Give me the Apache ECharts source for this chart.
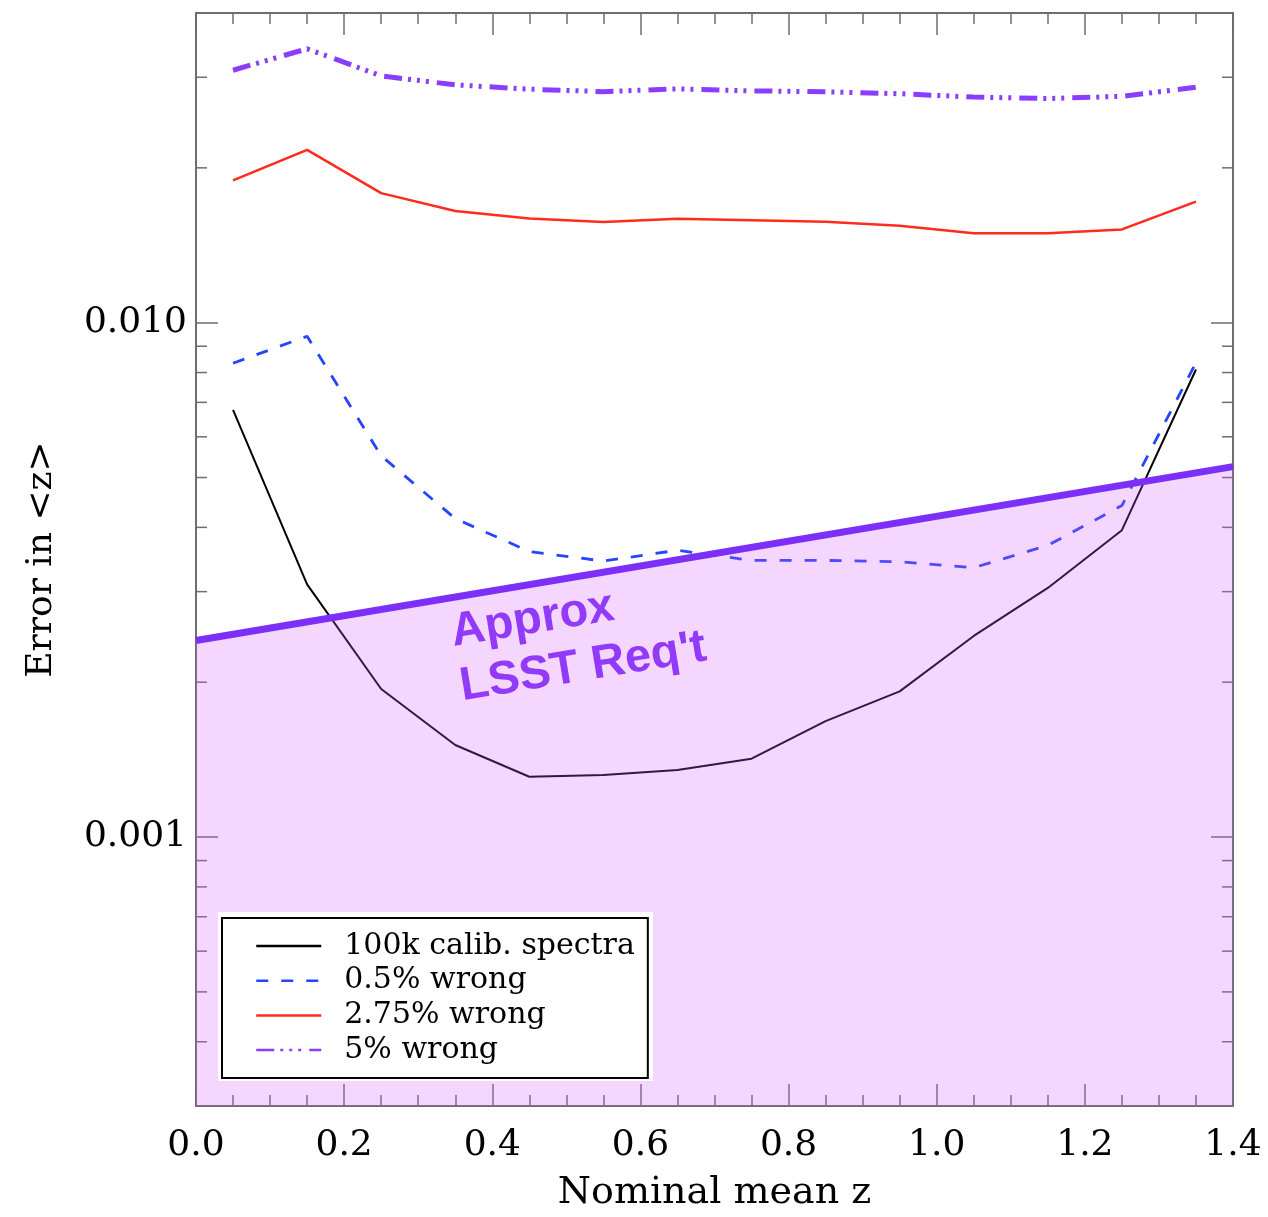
<!DOCTYPE html>
<html>
<head>
<meta charset="utf-8">
<script src="https://cdn.jsdelivr.net/npm/echarts@6/dist/echarts.min.js"></script>
<style>
  html, body { margin: 0; padding: 0; background: #ffffff; }
  #chart { width: 1268px; height: 1217px; }
</style>
</head>
<body>
<div id="chart"></div>
<script>
// ---- data ----
const zValues = [0.05, 0.15, 0.25, 0.35, 0.45, 0.55, 0.65, 0.75, 0.85, 0.95, 1.05, 1.15, 1.25, 1.35];
const calib100k = [0.00677, 0.00310, 0.00194, 0.00151, 0.00131, 0.00132, 0.00135, 0.00142, 0.00168, 0.00192, 0.00246, 0.00305, 0.00395, 0.00811];
const wrong05 = [0.00834, 0.00941, 0.00551, 0.00416, 0.00359, 0.00344, 0.00361, 0.00345, 0.00345, 0.00343, 0.00334, 0.00369, 0.00441, 0.00836];
const wrong275 = [0.01891, 0.02168, 0.01786, 0.01649, 0.01594, 0.01570, 0.01593, 0.01582, 0.01571, 0.01544, 0.01493, 0.01493, 0.01518, 0.01719];
const wrong5 = [0.03096, 0.03408, 0.03018, 0.02900, 0.02844, 0.02813, 0.02848, 0.02823, 0.02811, 0.02787, 0.02745, 0.02727, 0.02754, 0.02869];
const reqZ = [0.0, 1.4];
const reqValues = [0.00241, 0.00525];
const seriesNames = ['100k calib. spectra', '0.5% wrong', '2.75% wrong', '5% wrong'];
const yLabelValues = [0.001, 0.01];
const yMinorTicks = [0.0004, 0.0005, 0.0006, 0.0007, 0.0008, 0.0009,
                     0.002, 0.003, 0.004, 0.005, 0.006, 0.007, 0.008, 0.009,
                     0.02, 0.03];
const annotationText = ['Approx', "LSST Req't"];

// ---- styling ----
const SERIF = 'DejaVu Serif';
const AXIS_COLOR = '#6e6e6e';
const pair = (xs, ys) => xs.map((x, i) => [x, ys[i]]);

const chart = echarts.init(document.getElementById('chart'), null, { renderer: 'canvas' });

function xAxisCfg(pos, showLabels) {
  return {
    type: 'value', position: pos, min: 0, max: 1.4, interval: 0.2,
    axisLine: { show: true, onZero: false, lineStyle: { color: AXIS_COLOR, width: 2 } },
    axisTick: { show: true, inside: true, length: 22, lineStyle: { color: AXIS_COLOR, width: 1.5 } },
    minorTick: { show: true, splitNumber: 4, length: 11, lineStyle: { color: AXIS_COLOR, width: 1.5 } },
    splitLine: { show: false }, minorSplitLine: { show: false },
    axisLabel: {
      show: showLabels, margin: 22, color: '#000', fontFamily: SERIF, fontSize: 36,
      formatter: v => v.toFixed(1)
    },
    name: showLabels ? 'Nominal mean z' : '',
    nameLocation: 'middle', nameGap: 68,
    nameTextStyle: { color: '#000', fontFamily: SERIF, fontSize: 38 }
  };
}
function yAxisCfg(pos, showLabels) {
  return {
    type: 'log', logBase: 10, position: pos, min: 0.0003, max: 0.04,
    axisLine: { show: true, onZero: false, lineStyle: { color: AXIS_COLOR, width: 2 } },
    axisTick: { show: true, inside: true, length: 22, lineStyle: { color: AXIS_COLOR, width: 1.5 } },
    minorTick: { show: false },
    splitLine: { show: false },
    axisLabel: {
      show: showLabels, margin: 9, color: '#000', fontFamily: SERIF, fontSize: 36,
      formatter: v => {
        const hit = yLabelValues.find(t => Math.abs(Math.log10(v) - Math.log10(t)) < 1e-6);
        return hit !== undefined ? hit.toFixed(3) : '';
      }
    },
    name: showLabels ? 'Error in <z>' : '',
    nameLocation: 'middle', nameGap: 136, nameRotate: 90,
    nameTextStyle: { color: '#000', fontFamily: SERIF, fontSize: 36 }
  };
}

const option = {
  animation: false,
  backgroundColor: '#ffffff',
  grid: { left: 196, top: 13, width: 1037, height: 1097, containLabel: false },
  xAxis: [xAxisCfg('bottom', true), xAxisCfg('top', false)],
  yAxis: [yAxisCfg('left', true), yAxisCfg('right', false)],
  legend: {
    data: seriesNames,
    orient: 'vertical', left: 222, top: 918,
    padding: [13, 13, 13, 33],
    itemWidth: 65, itemHeight: 14, itemGap: 4.7,
    backgroundColor: '#ffffff', borderColor: '#000000', borderWidth: 2, borderRadius: 0,
    lineStyle: { width: 2.5 },
    itemStyle: { opacity: 0, borderWidth: 0 },
    textStyle: { color: '#000', fontFamily: SERIF, fontSize: 30, lineHeight: 30, padding: [0, 0, 0, 18] },
    selectedMode: false,
    z: 10
  },
  graphic: [
    {
      type: 'rect', z: 9,
      shape: { x: 218, y: 912, width: 435, height: 169 },
      style: { fill: '#ffffff' }
    },
    {
      type: 'group', x: 454, y: 649, rotation: 9.3 * Math.PI / 180, z: 8,
      children: [
        { type: 'text', x: 0, y: -16, style: { text: annotationText[0], fill: '#7c2ff8', font: 'bold 47px "Liberation Sans", Arial, sans-serif', align: 'left', verticalAlign: 'middle' } },
        { type: 'text', x: 0, y: 39, style: { text: annotationText[1], fill: '#7c2ff8', font: 'bold 47px "Liberation Sans", Arial, sans-serif', align: 'left', verticalAlign: 'middle' } }
      ]
    }
  ],
  series: [
    {
      type: 'custom', name: 'yMinorTicks', z: 1, silent: true,
      xAxisIndex: 0, yAxisIndex: 0,
      data: yMinorTicks.map(v => [0, v]),
      renderItem: function (params, api) {
        const cs = params.coordSys;
        const p = api.coord([0, api.value(1)]);
        const st = { stroke: AXIS_COLOR, lineWidth: 1.5 };
        return {
          type: 'group',
          children: [
            { type: 'line', shape: { x1: cs.x, y1: p[1], x2: cs.x + 11, y2: p[1] }, style: st },
            { type: 'line', shape: { x1: cs.x + cs.width - 11, y1: p[1], x2: cs.x + cs.width, y2: p[1] }, style: st }
          ]
        };
      }
    },
    {
      name: seriesNames[0], type: 'line', data: pair(zValues, calib100k), z: 2,
      symbol: 'none', lineStyle: { color: '#000000', width: 2 }, itemStyle: { color: '#000000' }
    },
    {
      name: seriesNames[1], type: 'line', data: pair(zValues, wrong05), z: 2,
      symbol: 'none', lineStyle: { color: '#2545ff', width: 2.8, type: [12, 13] }, itemStyle: { color: '#2545ff' }
    },
    {
      name: seriesNames[2], type: 'line', data: pair(zValues, wrong275), z: 2,
      symbol: 'none', lineStyle: { color: '#ff2b1c', width: 2.5 }, itemStyle: { color: '#ff2b1c' }
    },
    {
      name: seriesNames[3], type: 'line', data: pair(zValues, wrong5), z: 2,
      symbol: 'none', lineStyle: { color: '#8a3dff', width: 5, type: [18, 6, 3, 6, 3, 6, 3, 8] }, itemStyle: { color: '#8a3dff' }
    },
    {
      name: 'LSST requirement', type: 'line', data: pair(reqZ, reqValues), z: 3,
      symbol: 'none', lineStyle: { color: '#7c2ff8', width: 7 }, itemStyle: { color: '#7c2ff8' },
      areaStyle: { origin: 'start', color: 'rgba(211, 91, 251, 0.25)', opacity: 1 }
    }
  ]
};
chart.setOption(option);
</script>
</body>
</html>
